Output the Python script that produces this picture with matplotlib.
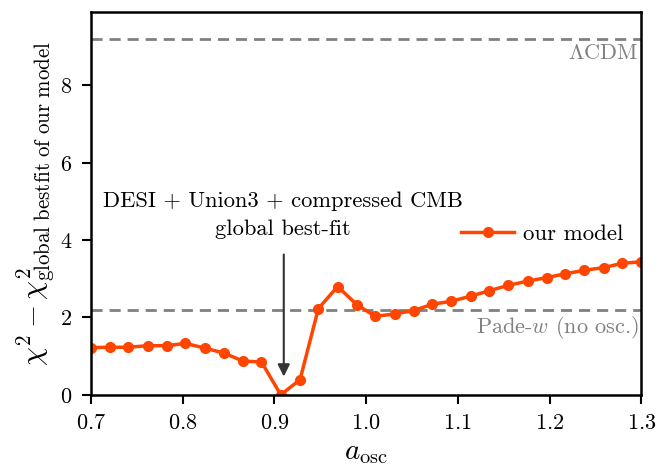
import matplotlib
matplotlib.use("Agg")
import matplotlib.pyplot as plt

plt.rcParams['font.family'] = 'serif'
plt.rcParams['font.serif'] = ['cmr10', 'DejaVu Serif']
plt.rcParams['mathtext.fontset'] = 'cm'
plt.rcParams['axes.formatter.use_mathtext'] = True

# oscillation scale factor grid and Delta chi^2 values
a_osc = [0.700, 0.721, 0.741, 0.762, 0.783, 0.803, 0.824, 0.845, 0.866, 0.886,
         0.907, 0.928, 0.948, 0.969, 0.990, 1.010, 1.031, 1.052, 1.072, 1.093,
         1.114, 1.134, 1.155, 1.176, 1.197, 1.217, 1.238, 1.259, 1.279, 1.300]
dchi2 = [1.22, 1.23, 1.23, 1.27, 1.27, 1.33, 1.21, 1.08, 0.87, 0.85,
         0.00, 0.39, 2.23, 2.80, 2.33, 2.03, 2.09, 2.18, 2.34, 2.42,
         2.55, 2.69, 2.83, 2.94, 3.03, 3.13, 3.22, 3.29, 3.40, 3.44]

lcdm_level = 9.2
pade_level = 2.2
bestfit_a = 0.9103

fig = plt.figure(figsize=(6.68, 4.70), dpi=100)
ax = fig.add_axes([0.136, 0.16, 0.824, 0.8145])

ax.axhline(lcdm_level, color='gray', ls='--', lw=2, dashes=(4, 2.5))
ax.axhline(pade_level, color='gray', ls='--', lw=2, dashes=(4, 2.5))
ax.plot(a_osc, dchi2, '-o', color='orangered', lw=2.5, ms=7, label='our model')

ax.text(1.297, lcdm_level - 0.12, r'$\Lambda$CDM', color='gray', ha='right', va='top', fontsize=16)
ax.text(1.297, pade_level - 0.12, r'Pade-$w$ (no osc.)', color='gray', ha='right', va='top', fontsize=16)

ax.annotate('', xy=(bestfit_a, 0.4), xytext=(bestfit_a, 3.7),
            arrowprops=dict(arrowstyle='-|>', color='#333333', lw=1.5, mutation_scale=18))
ax.text(0.909, 4.64, 'DESI + Union3 + compressed CMB\nglobal best-fit',
        ha='center', va='center', fontsize=16.2, linespacing=1.55)

ax.legend(loc='center right', bbox_to_anchor=(1.005, 0.42), frameon=False, fontsize=16.5,
          handlelength=2.3, handletextpad=0.4)

ax.set_xlim(0.7, 1.3)
ax.set_ylim(0, 9.9)
ax.set_xticks([0.7, 0.8, 0.9, 1.0, 1.1, 1.2, 1.3])
ax.set_yticks([0, 2, 4, 6, 8])
ax.set_xlabel(r'$a_{\rm osc}$', fontsize=21, labelpad=5)
ax.set_ylabel(r'$\chi^2 - \chi^2_{\rm global\ bestfit\ of\ our\ model}$', fontsize=21.5, labelpad=2)
ax.tick_params(labelsize=16, width=1.5, length=6.5, pad=7)
for s in ax.spines.values():
    s.set_linewidth(1.8)

fig.savefig('out.png', dpi=100)
